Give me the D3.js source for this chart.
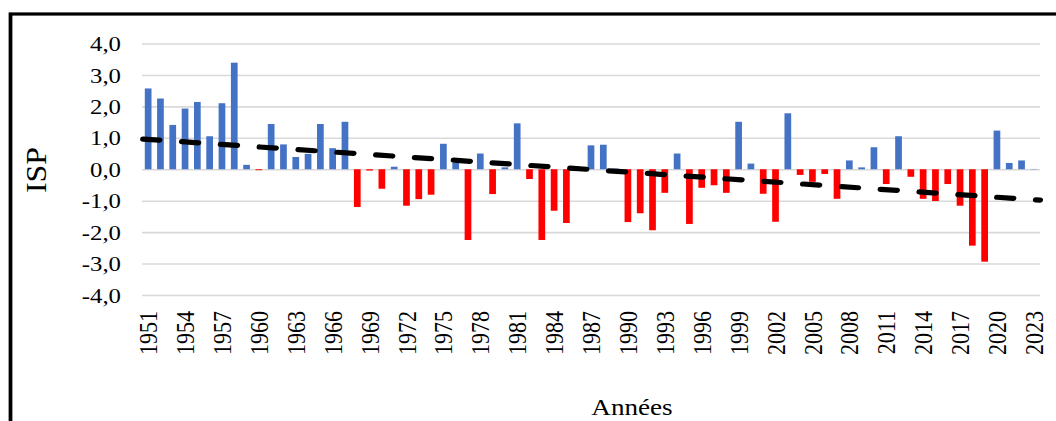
<!DOCTYPE html>
<html>
<head>
<meta charset="utf-8">
<script src="https://cdn.jsdelivr.net/npm/d3@7"></script>
<style>
  html, body { margin: 0; padding: 0; background: #fff; }
  svg { display: block; }
  text { font-family: "Liberation Serif", "Times New Roman", serif; fill: #000; }
</style>
</head>
<body>
<svg id="chart"></svg>
<script>
// ---- data ----
const years = [1951,1952,1953,1954,1955,1956,1957,1958,1959,1960,
  1961,1962,1963,1964,1965,1966,1967,1968,1969,1970,
  1971,1972,1973,1974,1975,1976,1977,1978,1979,1980,
  1981,1982,1983,1984,1985,1986,1987,1988,1989,1990,
  1991,1992,1993,1994,1995,1996,1997,1998,1999,2000,
  2001,2002,2003,2004,2005,2006,2007,2008,2009,2010,
  2011,2012,2013,2014,2015,2016,2017,2018,2019,2020,
  2021,2022,2023];
const isp = [2.57,2.25,1.41,1.93,2.14,1.05,2.10,3.39,0.14,-0.03,
  1.44,0.79,0.39,0.49,1.44,0.67,1.51,-1.20,-0.04,-0.62,
  0.08,-1.16,-0.95,-0.81,0.81,0.20,-2.25,0.50,-0.79,0.06,
  1.46,-0.31,-2.25,-1.32,-1.71,0.00,0.76,0.78,0.02,-1.68,
  -1.40,-1.94,-0.75,0.50,-1.74,-0.59,-0.51,-0.75,1.51,0.18,
  -0.78,-1.67,1.78,-0.18,-0.40,-0.15,-0.94,0.28,0.06,0.70,
  -0.47,1.05,-0.24,-0.94,-1.01,-0.47,-1.16,-2.43,-2.94,1.23,
  0.20,0.28,0.01];
const yTicks = [-4,-3,-2,-1,0,1,2,3,4];
const xTickYears = [1951,1954,1957,1960,1963,1966,1969,1972,1975,1978,1981,1984,1987,
  1990,1993,1996,1999,2002,2005,2008,2011,2014,2017,2020,2023];
const trendYears = [1951, 2023];
const trendValues = [0.95, -0.97];
const yLabel = "ISP";
const xLabel = "Années";

// ---- layout (picture is stretched horizontally) ----
const PW = 1056, PH = 421, S = 1.18;
const W = PW / S;
const svg = d3.select("#chart")
  .attr("width", PW).attr("height", PH)
  .attr("viewBox", `0 0 ${W} ${PH}`)
  .attr("preserveAspectRatio", "none");

const plotL = 142 / S, plotR = 1040 / S;
const yTop = 43.5, yBot = 295;

const x = d3.scaleBand().domain(years).range([plotL, plotR])
  .paddingInner(0.455).paddingOuter(0.2275);
const y = d3.scaleLinear().domain([-4, 4]).range([yBot, yTop]);
const fr = d3.formatLocale({decimal: ",", thousands: " ", grouping: [3], currency: ["", "€"], minus: "-"});
const fmt = fr.format(".1f");

// frame
svg.append("rect")
  .attr("x", 10.5 / S).attr("y", 14)
  .attr("width", W + 20).attr("height", PH + 20)
  .attr("fill", "none").attr("stroke", "#000")
  .attr("stroke-width", 3.2);

// grid
const grid = svg.append("g").attr("transform", `translate(${plotL},0)`)
  .call(d3.axisLeft(y).tickValues(yTicks).tickSize(-(plotR - plotL)).tickFormat(""));
grid.select(".domain").remove();
grid.selectAll("line").attr("stroke", "#d9d9d9").attr("stroke-width", 1.6);

// y axis labels
const ya = svg.append("g").attr("transform", `translate(${121 / S},0)`)
  .call(d3.axisLeft(y).tickValues(yTicks).tickSize(0).tickPadding(0).tickFormat(fmt));
ya.select(".domain").remove();
ya.selectAll("text").attr("font-size", 21).attr("dy", "0.34em")
  .style("font-family", '"Liberation Serif", serif').attr("fill", "#000");

// bars
svg.append("g").selectAll("rect").data(years).join("rect")
  .attr("x", (d) => x(d))
  .attr("width", x.bandwidth())
  .attr("y", (d, i) => y(Math.max(0, isp[i])))
  .attr("height", (d, i) => Math.abs(y(isp[i]) - y(0)))
  .attr("fill", (d, i) => isp[i] >= 0 ? "#4472c4" : "#ff0000");

// trend line
const tr = d3.scaleLinear().domain(trendYears).range(trendValues);
const xc = d3.scaleLinear()
  .domain([years[0], years[years.length - 1]])
  .range([x(years[0]) + x.bandwidth() / 2, x(years[years.length - 1]) + x.bandwidth() / 2]);
const yrL = xc.invert(plotL + 1), yrR = xc.invert(plotR);
svg.append("path")
  .datum([yrL, yrR])
  .attr("d", d3.line().x((d) => xc(d)).y((d) => y(tr(d))))
  .attr("fill", "none").attr("stroke", "#000")
  .attr("stroke-width", 5.2)
  .attr("stroke-linecap", "round")
  .attr("stroke-dasharray", "13.8,19.2");

// x axis labels
const xa = svg.append("g").attr("transform", `translate(0,311)`)
  .call(d3.axisBottom(x).tickValues(xTickYears).tickSize(0).tickFormat(d3.format("d")));
xa.select(".domain").remove();
xa.selectAll("text")
  .attr("transform", "rotate(-90)")
  .attr("x", 0).attr("y", 0).attr("dy", "0.35em")
  .style("text-anchor", "end")
  .attr("font-size", 22)
  .style("font-family", '"Liberation Serif", serif').attr("fill", "#000");

// axis titles
svg.append("text")
  .attr("transform", `translate(${46 / S},170) rotate(-90)`)
  .attr("text-anchor", "middle")
  .attr("font-size", 25)
  .attr("textLength", 46).attr("lengthAdjust", "spacingAndGlyphs")
  .text(yLabel);

svg.append("text")
  .attr("x", 632 / S).attr("y", 415)
  .attr("text-anchor", "middle")
  .attr("font-size", 23)
  .text(xLabel);
</script>
</body>
</html>
